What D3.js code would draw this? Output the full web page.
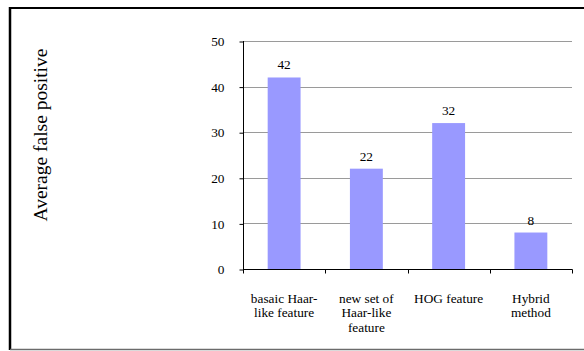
<!DOCTYPE html>
<html>
<head>
<meta charset="utf-8">
<script src="https://cdn.jsdelivr.net/npm/d3@7"></script>
<style>
  html, body { margin: 0; padding: 0; background: #fff; }
  svg { display: block; }
  svg text { font-family: "Liberation Serif", "Times New Roman", Times, serif !important; fill: #000; }
</style>
</head>
<body>
<svg id="chart" width="584" height="351"></svg>
<script>
// Methods compared and their average false positive counts
const categories = [
  ["basaic Haar-", "like feature"],
  ["new set of", "Haar-like", "feature"],
  ["HOG feature"],
  ["Hybrid", "method"]
];
const falsePositives = [42, 22, 32, 8];
const yTicks = [0, 10, 20, 30, 40, 50];
const yTitle = "Average false positive";

const serif = "'Liberation Serif', 'Times New Roman', Times, serif";
const fontSize = 13.3;
const svg = d3.select("#chart").style("font-family", serif);

// Frame around the chart area
svg.append("line").attr("x1", 9).attr("x2", 584).attr("y1", 8).attr("y2", 8)
  .attr("stroke", "#000").attr("stroke-width", 2);
svg.append("line").attr("x1", 10).attr("x2", 10).attr("y1", 7).attr("y2", 350)
  .attr("stroke", "#000").attr("stroke-width", 2.5);
svg.append("line").attr("x1", 10).attr("x2", 584).attr("y1", 349.5).attr("y2", 349.5)
  .attr("stroke", "#6b6b6b").attr("stroke-width", 1.5);

const plot = { left: 243, right: 572, top: 41, bottom: 269 };

const x = d3.scaleBand()
  .domain(d3.range(categories.length))
  .range([plot.left, plot.right])
  .padding(0);

const y = d3.scaleLinear()
  .domain([0, 50])
  .range([plot.bottom, plot.top]);

// Horizontal gridlines
svg.append("g")
  .selectAll("line")
  .data(yTicks)
  .join("line")
  .attr("x1", plot.left)
  .attr("x2", plot.right)
  .attr("y1", d => Math.round(y(d)) + 0.5)
  .attr("y2", d => Math.round(y(d)) + 0.5)
  .attr("stroke", "#9a9a9a")
  .attr("stroke-width", 1);

// Bars
const barW = x.bandwidth() * 0.4;
svg.append("g")
  .selectAll("rect")
  .data(falsePositives)
  .join("rect")
  .attr("x", (d, i) => x(i) + (x.bandwidth() - barW) / 2)
  .attr("width", barW)
  .attr("y", d => y(d))
  .attr("height", d => y(0) - y(d))
  .attr("fill", "#9999ff");

// Value labels
svg.append("g")
  .selectAll("text")
  .data(falsePositives)
  .join("text")
  .attr("x", (d, i) => x(i) + x.bandwidth() / 2)
  .attr("y", d => y(d) - 8)
  .attr("text-anchor", "middle")
  .attr("font-size", fontSize)
  .text(d => d);

// Y axis
const yAxis = d3.axisLeft(y)
  .tickValues(yTicks)
  .tickSize(4)
  .tickPadding(15)
  .tickFormat(d3.format("d"));
const gy = svg.append("g")
  .attr("transform", `translate(${plot.left + 0.5},0.5)`)
  .call(yAxis)
  .attr("font-family", serif);
gy.select(".domain").attr("stroke", "#000").attr("d", `M0,${plot.top - 0.5}V${plot.bottom}`);
gy.selectAll(".tick line").attr("stroke", "#000");
gy.selectAll(".tick text")
  .attr("font-size", fontSize)
  .attr("fill", "#000");

// X axis: ticks at category boundaries
const gx = svg.append("g").attr("transform", `translate(0,${plot.bottom + 0.5})`);
gx.append("line")
  .attr("x1", plot.left).attr("x2", plot.right + 0.5)
  .attr("stroke", "#000");
gx.selectAll("line.tick")
  .data(d3.range(categories.length + 1))
  .join("line")
  .attr("class", "tick")
  .attr("x1", i => Math.round(plot.left + i * x.bandwidth()) + 0.5)
  .attr("x2", i => Math.round(plot.left + i * x.bandwidth()) + 0.5)
  .attr("y1", 0).attr("y2", 4)
  .attr("stroke", "#000");

// Category labels (multi-line)
const labels = svg.append("g")
  .selectAll("text")
  .data(categories)
  .join("text")
  .attr("text-anchor", "middle")
  .attr("font-size", fontSize)
  .attr("x", (d, i) => x(i) + x.bandwidth() / 2)
  .attr("y", 302.5);
labels.selectAll("tspan")
  .data(d => d)
  .join("tspan")
  .attr("x", function () { return d3.select(this.parentNode).attr("x"); })
  .attr("dy", (d, i) => i === 0 ? 0 : 14.6)
  .text(d => d);

// Y axis title
svg.append("text")
  .attr("transform", `translate(47,135) rotate(-90)`)
  .attr("text-anchor", "middle")
  .attr("font-size", 19.5)
  .text(yTitle);
</script>
</body>
</html>
